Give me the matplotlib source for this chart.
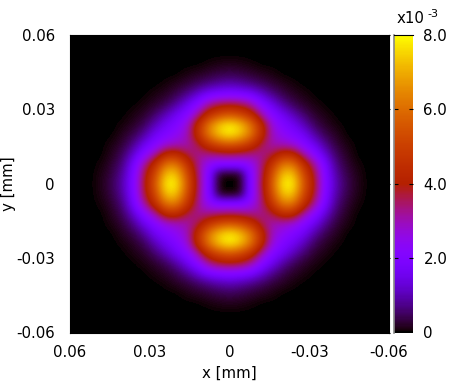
import matplotlib
matplotlib.use("Agg")
import matplotlib.pyplot as plt
import numpy as np

# intensity (x1e-3), one quadrant, step 0.004 mm
# rows y = 0 .. 0.06, columns x = 0 .. 0.06
quadrant = [
    [0.0, 0.02, 2.1, 3.5, 5.7, 7.9, 7.9, 5.6, 3.8, 2.1, 1.0, 0.45, 0.15, 0, 0, 0],
    [0.02, 0.05, 2.1, 3.4, 5.4, 7.4, 7.4, 5.2, 3.7, 2.0, 0.9, 0.38, 0.12, 0, 0, 0],
    [2.1, 2.1, 2.3, 3.3, 4.7, 6.3, 6.2, 4.5, 3.2, 1.8, 0.7, 0.28, 0.06, 0, 0, 0],
    [3.5, 3.4, 3.3, 3.2, 3.6, 4.5, 4.4, 3.1, 2.2, 1.25, 0.5, 0.18, 0, 0, 0, 0],
    [5.7, 5.4, 4.7, 3.6, 3.0, 2.9, 2.7, 2.1, 1.5, 0.75, 0.3, 0.1, 0, 0, 0, 0],
    [7.9, 7.4, 6.3, 4.5, 2.9, 2.4, 2.0, 1.6, 0.85, 0.4, 0.18, 0, 0, 0, 0, 0],
    [7.9, 7.4, 6.2, 4.4, 2.7, 2.0, 1.6, 1.0, 0.45, 0.2, 0.06, 0, 0, 0, 0, 0],
    [5.6, 5.2, 4.5, 3.1, 2.1, 1.6, 1.0, 0.55, 0.22, 0.1, 0, 0, 0, 0, 0, 0],
    [3.8, 3.7, 3.2, 2.2, 1.5, 0.85, 0.45, 0.22, 0.1, 0, 0, 0, 0, 0, 0, 0],
    [2.1, 2.0, 1.8, 1.25, 0.75, 0.4, 0.2, 0.1, 0, 0, 0, 0, 0, 0, 0, 0],
    [1.0, 0.9, 0.7, 0.5, 0.3, 0.18, 0.06, 0, 0, 0, 0, 0, 0, 0, 0, 0],
    [0.45, 0.38, 0.28, 0.18, 0.1, 0, 0, 0, 0, 0, 0, 0, 0, 0, 0, 0],
    [0.15, 0.12, 0.06, 0, 0, 0, 0, 0, 0, 0, 0, 0, 0, 0, 0, 0],
    [0, 0, 0, 0, 0, 0, 0, 0, 0, 0, 0, 0, 0, 0, 0, 0],
    [0, 0, 0, 0, 0, 0, 0, 0, 0, 0, 0, 0, 0, 0, 0, 0],
    [0, 0, 0, 0, 0, 0, 0, 0, 0, 0, 0, 0, 0, 0, 0, 0],
]
step = 0.004
xticks = [0.06, 0.03, 0, -0.03, -0.06]
xticklabels = ["0.06", "0.03", "0", "-0.03", "-0.06"]
cbticks = [0, 2, 4, 6, 8]
cbticklabels = ["0", "2.0", "4.0", "6.0", "8.0"]

# mirror the quadrant to get the whole field
q = np.array(quadrant, dtype=float)
top = np.hstack([q[:, :0:-1], q])
field = np.vstack([top[:0:-1], top])
half = (len(q) - 1) * step + step / 2

plt.rcParams["font.family"] = "DejaVu Sans"
plt.rcParams["font.size"] = 10.8

W, H = 463, 392
fig = plt.figure(figsize=(W / 100, H / 100), dpi=100)
ax = fig.add_axes([70 / W, (H - 332.5) / H, 319 / W, 297.5 / H])
im = ax.imshow(field, cmap="gnuplot", vmin=0, vmax=8, origin="lower", aspect="auto",
               interpolation="bicubic", extent=[-half, half, -half, half])
ax.set_xlim(0.06, -0.06)
ax.set_ylim(-0.06, 0.06)
ax.set_xticks(xticks)
ax.set_xticklabels(xticklabels)
ax.set_yticks(xticks)
ax.set_yticklabels(xticklabels)
ax.tick_params(axis="x", bottom=False, direction="in", pad=9)
ax.tick_params(axis="y", left=False, right=True, direction="out", length=1, width=0.8, pad=9.8)
ax.set_xlabel("x [mm]", labelpad=4)
ax.set_ylabel("y [mm]", labelpad=0)

cax = fig.add_axes([394 / W, (H - 332.5) / H, 19 / W, 297.5 / H])
cb = fig.colorbar(im, cax=cax)
cb.set_ticks(cbticks)
cb.set_ticklabels(cbticklabels)
cax.tick_params(direction="in", length=3, width=0.8, left=True, right=True, pad=7.5)
# no tick marks at the two ends of the bar
for t in (cax.yaxis.get_major_ticks()[0], cax.yaxis.get_major_ticks()[-1]):
    t.tick1line.set_visible(False)
    t.tick2line.set_visible(False)
cb.outline.set_visible(False)
cax.spines["left"].set_visible(True)
cax.spines["left"].set_color("#888888")
cax.spines["left"].set_linewidth(1.2)
cax.spines["top"].set_visible(True)
cax.spines["top"].set_linewidth(0.8)
fig.text(397 / W, (H - 23) / H, "x10")
fig.text(427 / W, (H - 17) / H, "-3", fontsize=8)

fig.savefig("out.png", dpi=100)
